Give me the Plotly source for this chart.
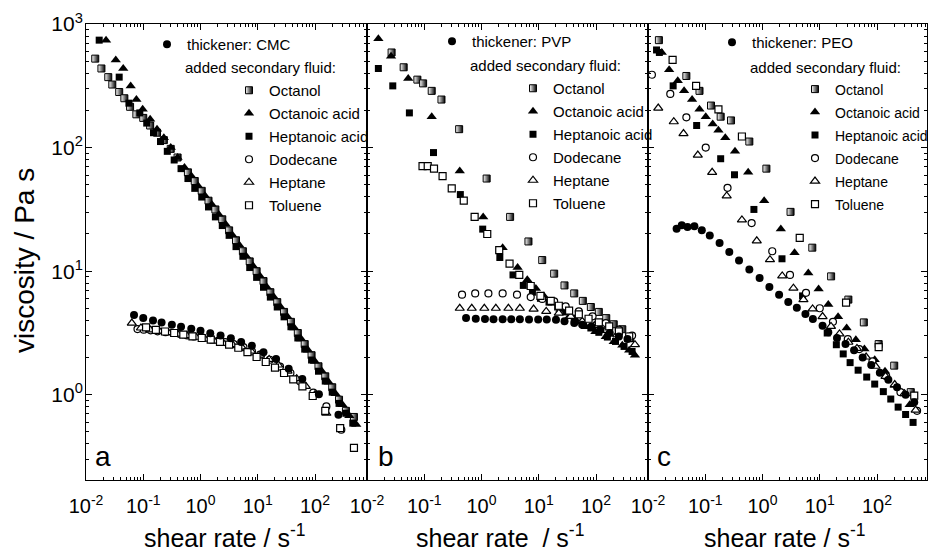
import plotly.graph_objects as go

# ---------------- data (shear rate / s^-1, viscosity / Pa s) ----------------
# Panel a: thickener CMC
a_cmc_x = [0.069, 0.10, 0.148, 0.209, 0.316, 0.457, 0.69, 1.0, 1.48, 2.24, 3.39, 5.13, 7.9, 12.6, 20.9, 34.7, 60, 117, 257]
a_cmc_y = [4.42, 4.17, 3.98, 3.85, 3.69, 3.55, 3.42, 3.30, 3.14, 3.01, 2.86, 2.67, 2.49, 2.21, 1.95, 1.62, 1.34, 1.01, 0.69]
a_octanol_x = [0.0145, 0.0186, 0.0245, 0.0288, 0.038, 0.0468, 0.0589, 0.0759, 0.1, 0.132, 0.174, 0.229, 0.302, 0.398, 0.603, 0.794, 1.05, 1.38, 1.82, 2.40, 3.16, 4.17, 5.50, 7.24, 9.55, 12.6, 16.6, 21.9, 28.8, 38.0, 50.1, 66.1, 87.1, 115, 151, 200, 263, 347, 479]
a_octanol_y = [525, 437, 372, 324, 282, 251, 214, 186, 174, 151, 132, 115, 97.7, 83.2, 63.1, 53.7, 44.7, 37.2, 31.6, 26.3, 21.4, 17.8, 14.5, 12.0, 10.0, 8.32, 6.76, 5.62, 4.68, 3.89, 3.16, 2.57, 2.09, 1.70, 1.41, 1.15, 0.912, 0.741, 0.661]
a_octacid_x = [0.0224, 0.0331, 0.0447, 0.0603, 0.0759, 0.0977, 0.132, 0.174, 0.229, 0.302, 0.398, 0.525, 0.692, 0.912, 1.20, 1.58, 2.09, 2.75, 3.63, 4.79, 6.31, 8.32, 11.0, 14.5, 19.1, 25.1, 33.1, 43.7, 57.5, 75.9, 100, 132, 174, 229, 302, 398, 525]
a_octacid_y = [741, 513, 437, 316, 245, 204, 170, 141, 120, 100, 83.2, 69.2, 58.9, 49.0, 40.7, 34.7, 28.8, 24.0, 19.5, 16.2, 13.2, 11.0, 9.12, 7.41, 6.17, 5.13, 4.27, 3.47, 2.82, 2.29, 1.86, 1.55, 1.26, 1.02, 0.83, 0.676, 0.575]
a_hepacid_x = [0.017, 0.038, 0.0562, 0.0871, 0.115, 0.151, 0.2, 0.263, 0.347, 0.457, 0.603, 0.794, 1.05, 1.38, 1.82, 2.40, 3.16, 4.17, 5.50, 7.24, 9.55, 12.6, 16.6, 21.9, 28.8, 38.0, 50.1, 66.1, 87.1, 115, 151, 200, 263, 347, 457]
a_hepacid_y = [741, 372, 229, 191, 158, 132, 112, 93.3, 79.4, 67.6, 56.2, 46.8, 39.8, 33.1, 27.5, 23.4, 19.5, 15.8, 13.2, 10.7, 8.91, 7.41, 6.17, 5.13, 4.27, 3.55, 2.88, 2.34, 1.91, 1.55, 1.29, 1.05, 0.851, 0.708, 0.589]
a_dodecane_x = [0.0794, 0.102, 0.135, 0.178, 0.245, 0.331, 0.437, 0.589, 0.759, 1.07, 1.48, 2.09, 2.69, 3.80, 5.62, 7.94, 11.0, 16.2, 24.5, 37.2, 55.0, 93.3, 158, 288]
a_dodecane_y = [3.40, 3.36, 3.32, 3.26, 3.21, 3.16, 3.10, 3.02, 2.96, 2.91, 2.84, 2.75, 2.67, 2.57, 2.43, 2.24, 2.11, 1.92, 1.69, 1.50, 1.28, 1.04, 0.805, 0.521]
a_heptane_x = [0.0631, 0.0912, 0.132, 0.191, 0.275, 0.398, 0.575, 0.832, 1.20, 1.74, 2.51, 3.63, 5.25, 7.59, 11.0, 15.8, 22.9, 33.1, 47.9, 69.2, 100, 158]
a_heptane_y = [3.80, 3.47, 3.35, 3.27, 3.18, 3.09, 3.01, 2.92, 2.82, 2.72, 2.60, 2.54, 2.43, 2.26, 2.09, 1.93, 1.74, 1.55, 1.35, 1.17, 1.0, 0.708]
a_toluene_x = [0.112, 0.166, 0.240, 0.347, 0.501, 0.724, 1.05, 1.51, 2.19, 3.16, 4.57, 6.61, 9.55, 13.8, 20.0, 28.8, 41.7, 60.3, 91.2, 151, 275, 479]
a_toluene_y = [3.51, 3.35, 3.25, 3.16, 3.07, 2.97, 2.88, 2.79, 2.68, 2.54, 2.40, 2.21, 2.02, 1.84, 1.66, 1.50, 1.33, 1.17, 0.977, 0.741, 0.537, 0.372]

# Panel b: thickener PVP
b_pvp_x = [0.537, 0.794, 1.15, 1.62, 2.34, 3.31, 4.68, 6.76, 9.77, 13.8, 20.0, 28.2, 41.7, 57.5, 83.2, 120, 174, 251, 355]
b_pvp_y = [4.18, 4.12, 4.10, 4.09, 4.09, 4.08, 4.08, 4.07, 4.07, 4.06, 4.05, 3.93, 3.80, 3.69, 3.57, 3.36, 3.16, 2.96, 2.82]
b_octanol_x = [0.0269, 0.0437, 0.0759, 0.0955, 0.135, 0.2, 0.407, 1.23, 3.16, 6.61, 11.5, 18.6, 28.2, 41.7, 58.9, 81.3, 112, 151, 204, 288, 398]
b_octanol_y = [589, 447, 355, 331, 288, 245, 141, 56.2, 27.5, 17.4, 12.3, 9.55, 7.67, 6.61, 5.75, 5.13, 4.68, 4.17, 3.72, 3.39, 2.95]
b_octacid_x = [0.0158, 0.0263, 0.0525, 0.135, 0.417, 1.07, 2.34, 4.27, 6.31, 8.91, 12.3, 17.4, 24.0, 33.9, 46.8, 66.1, 97.7, 148, 204, 288, 380, 479]
b_octacid_y = [759, 550, 363, 178, 64.6, 27.5, 15.5, 10.7, 8.51, 7.24, 6.31, 5.50, 4.90, 4.27, 3.89, 3.55, 3.24, 2.95, 2.69, 2.51, 2.29, 2.09]
b_hepacid_x = [0.0158, 0.0282, 0.055, 0.145, 0.427, 1.05, 2.09, 3.55, 5.37, 7.76, 10.7, 15.1, 21.4, 29.5, 41.7, 57.5, 81.3, 112, 158, 219, 309, 427]
b_hepacid_y = [437, 316, 191, 91.2, 41.7, 21.9, 12.9, 9.33, 7.67, 6.76, 6.03, 5.62, 5.13, 4.68, 4.17, 3.80, 3.47, 3.20, 2.93, 2.70, 2.46, 2.24]
b_dodecane_x = [0.457, 0.776, 1.32, 2.34, 4.17, 7.24, 11.5, 18.6, 29.5, 50.1, 87.1, 148, 251, 427]
b_dodecane_y = [6.46, 6.61, 6.61, 6.61, 6.46, 6.17, 5.96, 5.70, 5.19, 4.73, 4.31, 3.80, 3.36, 3.01]
b_heptane_x = [0.417, 0.676, 1.12, 1.78, 2.95, 4.68, 8.13, 13.5, 22.4, 36.3, 57.5, 93.3, 148, 234, 380, 479]
b_heptane_y = [5.01, 5.01, 5.01, 5.01, 5.01, 5.01, 4.94, 4.73, 4.57, 4.31, 3.93, 3.62, 3.32, 3.06, 2.79, 2.54]
b_toluene_x = [0.0933, 0.115, 0.148, 0.209, 0.302, 0.49, 0.759, 1.26, 2.04, 3.09, 4.57, 7.24, 10.7, 16.2, 22.4, 33.9, 50.1, 74.1, 112, 170, 251, 380]
b_toluene_y = [70.8, 70.8, 67.6, 58.9, 46.8, 37.2, 27.5, 20.0, 14.8, 11.5, 9.33, 7.59, 6.31, 5.75, 5.25, 4.79, 4.47, 4.12, 3.85, 3.57, 3.26, 2.96]

# Panel c: thickener PEO
c_peo_x = [0.0316, 0.0389, 0.049, 0.0646, 0.0871, 0.12, 0.178, 0.263, 0.389, 0.589, 0.891, 1.32, 1.95, 2.82, 3.98, 5.62, 7.59, 11.2, 14.1, 20.0, 28.2, 39.8, 56.2, 79.4, 112, 158, 224, 316, 447]
c_peo_y = [22.1, 23.5, 22.8, 23.1, 21.4, 19.4, 16.9, 14.3, 12.2, 10.3, 8.81, 7.45, 6.46, 5.62, 5.06, 4.50, 4.10, 3.62, 3.20, 2.88, 2.57, 2.29, 2.0, 1.74, 1.51, 1.32, 1.15, 1.0, 0.871]
c_octanol_x = [0.0155, 0.0468, 0.0794, 0.126, 0.186, 0.282, 0.589, 1.17, 3.09, 7.41, 15.8, 31.6, 58.9, 107, 200, 389]
c_octanol_y = [741, 380, 288, 219, 178, 166, 112, 67.6, 30.2, 15.5, 9.08, 5.89, 3.85, 2.57, 1.72, 1.05]
c_octacid_x = [0.0174, 0.0234, 0.0331, 0.0427, 0.0589, 0.0794, 0.102, 0.135, 0.170, 0.224, 0.331, 0.562, 1.07, 2.09, 3.63, 6.31, 9.55, 14.1, 20.9, 29.5, 42.7, 60.3, 91.2, 138, 204, 372]
c_octacid_y = [589, 427, 347, 288, 245, 204, 178, 155, 138, 120, 93.3, 63.1, 37.2, 21.9, 14.1, 9.66, 7.18, 5.37, 4.27, 3.47, 2.79, 2.34, 1.92, 1.55, 1.19, 0.83]
c_hepacid_x = [0.0141, 0.0158, 0.0275, 0.0708, 0.186, 0.324, 0.708, 2.19, 5.01, 13.5, 19.5, 25.7, 33.9, 46.8, 66.1, 91.2, 129, 174, 234, 316, 427]
c_hepacid_y = [617, 589, 316, 151, 81.3, 60.3, 31.6, 12.6, 6.31, 3.16, 2.54, 2.14, 1.82, 1.58, 1.39, 1.22, 1.06, 0.923, 0.794, 0.692, 0.597]
c_dodecane_x = [0.0117, 0.0245, 0.0468, 0.102, 0.245, 0.646, 1.48, 3.02, 5.75, 10, 17.0, 30.9, 49.0, 83.2, 145, 257, 501]
c_dodecane_y = [389, 272, 176, 100, 47.3, 24.5, 14.5, 9.33, 6.68, 5.01, 3.89, 2.82, 2.34, 1.86, 1.41, 1.05, 0.741]
c_heptane_x = [0.0151, 0.0282, 0.0417, 0.0741, 0.132, 0.237, 0.437, 0.794, 1.35, 2.21, 3.47, 5.19, 7.50, 11.2, 15.7, 22.1, 31.6, 44.7, 64.6, 94.4, 141, 204, 302, 473]
c_heptane_y = [209, 162, 130, 87.1, 63.1, 40.7, 26.0, 17.6, 12.4, 9.16, 7.28, 5.89, 4.95, 4.29, 3.57, 3.11, 2.66, 2.37, 2.02, 1.70, 1.41, 1.21, 1.02, 0.75]
c_toluene_x = [0.0269, 0.0692, 0.170, 0.437, 4.47, 28.8, 107, 447]
c_toluene_y = [513, 316, 204, 123, 18.6, 5.56, 2.43, 0.982]

thickeners = ["CMC", "PVP", "PEO"]
fluids = ["Octanol", "Octanoic acid", "Heptanoic acid", "Dodecane", "Heptane", "Toluene"]
panel_letters = ["a", "b", "c"]
x_tickvals = [0.01, 0.1, 1, 10, 100]
x_ticktext = ["10<sup>-2</sup>", "10<sup>-1</sup>", "10<sup>0</sup>", "10<sup>1</sup>", "10<sup>2</sup>"]
y_tickvals = [1, 10, 100, 1000]
y_ticktext = ["10<sup>0</sup>", "10<sup>1</sup>", "10<sup>2</sup>", "10<sup>3</sup>"]

panels = [
    [(a_cmc_x, a_cmc_y), (a_octanol_x, a_octanol_y), (a_octacid_x, a_octacid_y), (a_hepacid_x, a_hepacid_y),
     (a_dodecane_x, a_dodecane_y), (a_heptane_x, a_heptane_y), (a_toluene_x, a_toluene_y)],
    [(b_pvp_x, b_pvp_y), (b_octanol_x, b_octanol_y), (b_octacid_x, b_octacid_y), (b_hepacid_x, b_hepacid_y),
     (b_dodecane_x, b_dodecane_y), (b_heptane_x, b_heptane_y), (b_toluene_x, b_toluene_y)],
    [(c_peo_x, c_peo_y), (c_octanol_x, c_octanol_y), (c_octacid_x, c_octacid_y), (c_hepacid_x, c_hepacid_y),
     (c_dodecane_x, c_dodecane_y), (c_heptane_x, c_heptane_y), (c_toluene_x, c_toluene_y)],
]

# ---------------- styling ----------------
FONT = "Liberation Sans, Arial, sans-serif"
W, H = 928, 552
ML, MR, MT, MB = 86, 1, 24, 72
PW, PH = W - ML - MR, H - MT - MB

def xp(px):
    return (px - ML) / PW

def yp(py):
    return (H - MB - py) / PH

thick_marker = dict(symbol="circle", size=8, color="black", line=dict(width=0))
fluid_markers = [
    dict(symbol="square", size=7, color="white", gradient=dict(type="horizontal", color="black"), line=dict(color="black", width=1)),
    dict(symbol="triangle-up", size=9, color="black", line=dict(width=0)),
    dict(symbol="square", size=7, color="black", line=dict(width=0)),
    dict(symbol="circle", size=7, color="white", line=dict(color="black", width=1.2)),
    dict(symbol="triangle-up", size=8, color="white", line=dict(color="black", width=1.2)),
    dict(symbol="square", size=7, color="white", line=dict(color="black", width=1.2)),
]

panel_left = [86, 367, 648]
panel_right = [367, 648, 927]
decade_px = 57.25
thick_leg_px = [165, 450, 730]
item_leg_px = [247, 531, 813]
thick_leg_py = [44, 41, 42]
item_first_py = [90, 88, 89]
item_step = 23
added_py = [67, 65, 67]
title_cx = [224, 500, 784]
letter_px = [93, 376, 655]
leg_font_size = [15, 15, 14]

fig = go.Figure()
layout = dict(
    width=W, height=H, autosize=False,
    margin=dict(l=ML, r=MR, t=MT, b=MB, pad=0, autoexpand=False),
    paper_bgcolor="white", plot_bgcolor="white",
    font=dict(family=FONT, color="black"),
    annotations=[], showlegend=True,
)

def minor_vals(lo, hi):
    vals = []
    for n in range(lo, hi + 1):
        for k in range(2, 10):
            vals.append(k * 10.0 ** n)
    return vals

def leg_name(n):
    return "legend" if n == 1 else "legend" + str(n)

def leg_box(px, py, fs):
    off = 16 if fs >= 15 else 15.5
    return dict(x=xp(px - 18), y=yp(py - off), xanchor="left", yanchor="top",
                bgcolor="rgba(0,0,0,0)", borderwidth=0,
                font=dict(family=FONT, size=fs, color="black"), itemwidth=30, tracegroupgap=0)

for p in range(3):
    sfx = "" if p == 0 else str(p + 1)
    xa, ya = "x" + sfx, "y" + sfx
    data = panels[p]
    fs = leg_font_size[p]
    base = p * 7
    for i, (fx, fy) in enumerate(data[1:]):
        ln = leg_name(base + 2 + i)
        fig.add_trace(go.Scatter(x=fx, y=fy, mode="markers", name=fluids[i], marker=fluid_markers[i],
                                 xaxis=xa, yaxis=ya, legend=ln))
        layout[ln] = leg_box(item_leg_px[p], item_first_py[p] + i * item_step, fs)
    ln = leg_name(base + 1)
    fig.add_trace(go.Scatter(x=data[0][0], y=data[0][1], mode="markers", name="thickener: " + thickeners[p],
                             marker=thick_marker, xaxis=xa, yaxis=ya, legend=ln))
    layout[ln] = leg_box(thick_leg_px[p], thick_leg_py[p], 15)

    x0 = xp(panel_left[p])
    x1 = xp(panel_right[p])
    xrange_hi = -2 + (panel_right[p] - panel_left[p]) / decade_px
    layout["xaxis" + sfx] = dict(
        type="log", range=[-2, xrange_hi], domain=[x0, x1], anchor=ya,
        showline=True, linecolor="black", linewidth=1, mirror="ticks",
        ticks="inside", ticklen=6, tickwidth=1, tickcolor="black",
        tickmode="array", tickvals=x_tickvals, ticktext=x_ticktext, ticklabelstandoff=8,
        tickfont=dict(family=FONT, size=20, color="black"),
        minor=dict(ticks="inside", ticklen=3, tickwidth=1, tickcolor="black", tickmode="array",
                   tickvals=minor_vals(-2, 2), showgrid=False),
        showgrid=False, zeroline=False, fixedrange=True,
    )
    layout["yaxis" + sfx] = dict(
        type="log", range=[-0.69, 3.0005], domain=[0, 1], anchor=xa,
        showline=True, linecolor="black", linewidth=1, mirror="ticks",
        ticks="inside", ticklen=6, tickwidth=1, tickcolor="black",
        tickmode="array", tickvals=y_tickvals, ticktext=y_ticktext,
        showticklabels=(p == 0), ticklabelstandoff=-2,
        tickfont=dict(family=FONT, size=21, color="black"),
        minor=dict(ticks="inside", ticklen=3, tickwidth=1, tickcolor="black", tickmode="array",
                   tickvals=minor_vals(-1, 2), showgrid=False),
        showgrid=False, zeroline=False, fixedrange=True,
    )
    layout["annotations"].append(dict(
        text="added secondary fluid:", x=xp(thick_leg_px[p] + 18), y=yp(added_py[p]), xref="paper", yref="paper",
        xanchor="left", yanchor="middle", showarrow=False, font=dict(family=FONT, size=15, color="black")))
    title_txt = "shear rate / s<sup>-1</sup>" if p != 1 else "shear rate\u00a0\u00a0/ s<sup>-1</sup>"
    layout["annotations"].append(dict(
        text=title_txt, x=xp(title_cx[p]), y=yp(536), xref="paper", yref="paper",
        xanchor="center", yanchor="middle", showarrow=False, font=dict(family=FONT, size=25, color="black")))
    layout["annotations"].append(dict(
        text=panel_letters[p], x=xp(letter_px[p]), y=yp(474), xref="paper", yref="paper",
        xanchor="left", yanchor="bottom", showarrow=False, font=dict(family=FONT, size=28, color="black")))

layout["annotations"].append(dict(
    text="viscosity / Pa s", x=xp(24), y=yp(261), xref="paper", yref="paper", textangle=-90,
    xanchor="center", yanchor="middle", showarrow=False, font=dict(family=FONT, size=28, color="black")))

fig.update_layout(**layout)
fig.write_html("out.html")
